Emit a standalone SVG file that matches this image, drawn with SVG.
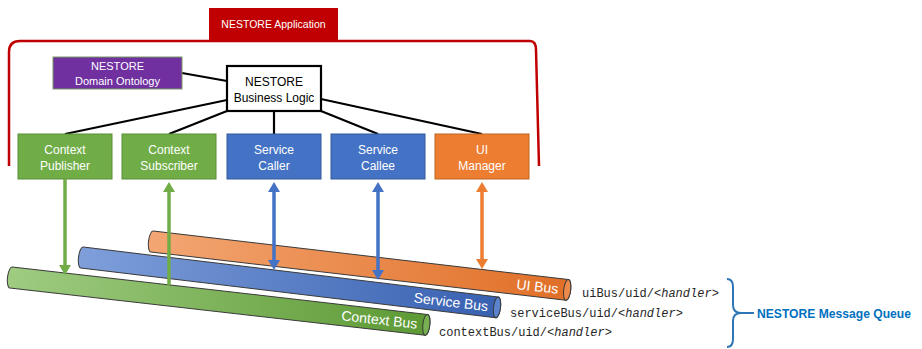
<svg xmlns="http://www.w3.org/2000/svg" width="922" height="349" viewBox="0 0 922 349">
<style>
.box-t{font-family:"Liberation Sans",Arial,sans-serif;fill:#fff;text-anchor:middle}
.lbl{font-size:12px}
.mono{font-family:"Liberation Mono","Courier New",monospace;font-size:12px;fill:#262626}
.it{font-style:italic}
.bus-t{font-family:"Liberation Sans",Arial,sans-serif;font-size:14px;fill:#fff;text-anchor:end}
.conn{stroke:#000;stroke-width:2.2;fill:none}
.arr{stroke-width:3.5;fill:none}
.cyl{stroke:#3a3a3a;stroke-width:1}
</style>
<defs>
<linearGradient id="gO" x1="0" y1="0" x2="1" y2="0"><stop offset="0" stop-color="#F3A673"/><stop offset="1" stop-color="#E06F27"/></linearGradient>
<linearGradient id="gB" x1="0" y1="0" x2="1" y2="0"><stop offset="0" stop-color="#7F9FDB"/><stop offset="1" stop-color="#3760B0"/></linearGradient>
<linearGradient id="gG" x1="0" y1="0" x2="1" y2="0"><stop offset="0" stop-color="#9FCC81"/><stop offset="1" stop-color="#5C9934"/></linearGradient>
<marker id="mG" viewBox="0 0 10 12" refX="2" refY="6" markerWidth="10" markerHeight="12" markerUnits="userSpaceOnUse" orient="auto-start-reverse"><path d="M0,0 L10,6 L0,12 Z" fill="#70AD47"/></marker>
<marker id="mB" viewBox="0 0 10 12" refX="2" refY="6" markerWidth="10" markerHeight="12" markerUnits="userSpaceOnUse" orient="auto-start-reverse"><path d="M0,0 L10,6 L0,12 Z" fill="#4472C4"/></marker>
<marker id="mO" viewBox="0 0 10 12" refX="2" refY="6" markerWidth="10" markerHeight="12" markerUnits="userSpaceOnUse" orient="auto-start-reverse"><path d="M0,0 L10,6 L0,12 Z" fill="#ED7D31"/></marker>
</defs>

<g id="application">
<path d="M9,166 L9,52 Q9,41 20,41 L530,41 Q536,41 536,50 L539,166" fill="none" stroke="#C00000" stroke-width="2.5"/>
<rect x="209" y="8" width="129" height="33" fill="#C00000"/>
<text x="273.5" y="28" class="box-t" font-size="10.5px">NESTORE Application</text>
</g>

<g id="connectors-logic">
<line class="conn" x1="182" y1="73" x2="227" y2="81"/>
<line class="conn" x1="227" y1="100" x2="65" y2="134"/>
<line class="conn" x1="227" y1="111" x2="169" y2="134"/>
<line class="conn" x1="274" y1="111" x2="274" y2="134"/>
<line class="conn" x1="321" y1="111" x2="378" y2="134"/>
<line class="conn" x1="321" y1="99" x2="482" y2="134"/>
</g>

<g id="domain-ontology">
<rect x="53" y="57" width="129" height="32" fill="#7030A0" stroke="#7A9A66" stroke-width="1"/>
<text x="117.5" y="70" class="box-t" font-size="11px">NESTORE</text>
<text x="117.5" y="85" class="box-t" font-size="11px">Domain Ontology</text>
</g>

<g id="business-logic">
<rect x="227" y="66" width="94" height="45" fill="#fff" stroke="#000" stroke-width="2.2"/>
<text x="274" y="85.5" class="box-t" font-size="12px" style="fill:#000">NESTORE</text>
<text x="274" y="101.5" class="box-t" font-size="12px" style="fill:#000">Business Logic</text>
</g>

<g id="context-publisher">
<rect x="18" y="134" width="94" height="45" fill="#70AD47" stroke="#5A8E38" stroke-width="1"/>
<text x="65" y="153.5" class="box-t lbl">Context</text>
<text x="65" y="169.5" class="box-t lbl">Publisher</text>
</g>
<g id="context-subscriber">
<rect x="122" y="134" width="94" height="45" fill="#70AD47" stroke="#5A8E38" stroke-width="1"/>
<text x="169" y="153.5" class="box-t lbl">Context</text>
<text x="169" y="169.5" class="box-t lbl">Subscriber</text>
</g>
<g id="service-caller">
<rect x="227" y="134" width="94" height="45" fill="#4472C4" stroke="#35599A" stroke-width="1"/>
<text x="274" y="153.5" class="box-t lbl">Service</text>
<text x="274" y="169.5" class="box-t lbl">Caller</text>
</g>
<g id="service-callee">
<rect x="331" y="134" width="94" height="45" fill="#4472C4" stroke="#35599A" stroke-width="1"/>
<text x="378" y="153.5" class="box-t lbl">Service</text>
<text x="378" y="169.5" class="box-t lbl">Callee</text>
</g>
<g id="ui-manager">
<rect x="435" y="134" width="94" height="45" fill="#ED7D31" stroke="#C0651F" stroke-width="1"/>
<text x="482" y="153.5" class="box-t lbl">UI</text>
<text x="482" y="169.5" class="box-t lbl">Manager</text>
</g>

<g id="ui-bus" transform="translate(152,241.5) rotate(6.65)">
<path class="cyl" d="M0,-10.5 L418,-10.5 A3.5,10.5 0 0 1 418,10.5 L0,10.5 A3.5,10.5 0 0 1 0,-10.5 Z" fill="url(#gO)"/>
<ellipse class="cyl" cx="418" cy="0" rx="3.5" ry="10.5" fill="#EC8A4B"/>
<text x="409" y="5" class="bus-t">UI Bus</text>
</g>
<g id="service-bus" transform="translate(82,257.5) rotate(6.85)">
<path class="cyl" d="M0,-10.5 L418,-10.5 A3.5,10.5 0 0 1 418,10.5 L0,10.5 A3.5,10.5 0 0 1 0,-10.5 Z" fill="url(#gB)"/>
<ellipse class="cyl" cx="418" cy="0" rx="3.5" ry="10.5" fill="#5B82CC"/>
<text x="409" y="5" class="bus-t">Service Bus</text>
</g>
<g id="context-bus" transform="translate(11,277.5) rotate(6.5)">
<path class="cyl" d="M0,-10.5 L418,-10.5 A3.5,10.5 0 0 1 418,10.5 L0,10.5 A3.5,10.5 0 0 1 0,-10.5 Z" fill="url(#gG)"/>
<ellipse class="cyl" cx="418" cy="0" rx="3.5" ry="10.5" fill="#78B051"/>
<text x="409" y="5" class="bus-t">Context Bus</text>
</g>

<g id="connectors-bus">
<line class="arr" stroke="#70AD47" x1="65" y1="179" x2="65" y2="267" marker-end="url(#mG)"/>
<line class="arr" stroke="#70AD47" x1="169" y1="285" x2="169" y2="190" marker-end="url(#mG)"/>
<line class="arr" stroke="#4472C4" x1="274" y1="190" x2="274" y2="262" marker-start="url(#mB)" marker-end="url(#mB)"/>
<line class="arr" stroke="#4472C4" x1="378" y1="190" x2="378" y2="272" marker-start="url(#mB)" marker-end="url(#mB)"/>
<line class="arr" stroke="#ED7D31" x1="482" y1="190" x2="482" y2="261" marker-start="url(#mO)" marker-end="url(#mO)"/>
</g>

<g id="topics">
<text x="582" y="297" class="mono">uiBus/uid/<tspan class="it">&lt;handler&gt;</tspan></text>
<text x="510" y="317" class="mono">serviceBus/uid/<tspan class="it">&lt;handler&gt;</tspan></text>
<text x="439" y="336" class="mono">contextBus/uid/<tspan class="it">&lt;handler&gt;</tspan></text>
</g>

<g id="message-queue">
<path d="M727,279 Q733,279 733,287 L733,305 Q733,313 741,313 Q733,313 733,321 L733,339 Q733,347 727,347 M741,313 H754" fill="none" stroke="#2E75B6" stroke-width="2"/>
<text x="757" y="318" font-family="'Liberation Sans',Arial,sans-serif" font-size="13px" font-weight="bold" fill="#0070C0" textLength="154" lengthAdjust="spacingAndGlyphs">NESTORE Message Queue</text>
</g>
</svg>
